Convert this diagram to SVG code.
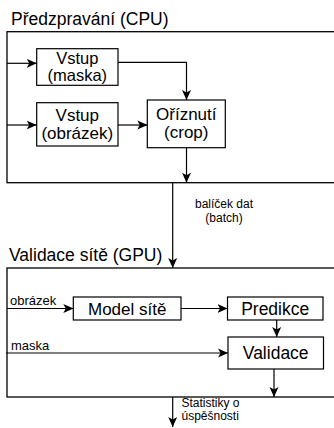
<svg xmlns="http://www.w3.org/2000/svg" width="334" height="428" viewBox="0 0 334 428">
  <style>
    .box { fill: #fff; stroke: #000; stroke-width: 1.2; }
    .frame { fill: none; stroke: #000; stroke-width: 1.3; }
    .wire { fill: none; stroke: #000; stroke-width: 1.2; }
    .t { font-family: "Liberation Sans", Arial, sans-serif; fill: #000; }
    .title { font-size: 17.5px; }
    .node { font-size: 17px; text-anchor: middle; }
    .small { font-size: 12px; }
  </style>
  <defs>
    <marker id="arrow" viewBox="0 0 10 10" refX="10" refY="5" markerWidth="10" markerHeight="10" markerUnits="userSpaceOnUse" orient="auto">
      <path d="M0,0.5 L10,5 L0,9.5 L2.5,5 z" fill="#000"/>
    </marker>
  </defs>

  <!-- preprocessing stage (CPU) -->
  <g id="stage-cpu">
    <rect class="frame" x="7" y="31.7" width="340" height="151"/>
    <text class="t title" x="11" y="25">Předzpravání (CPU)</text>
  </g>

  <!-- network validation stage (GPU) -->
  <g id="stage-gpu">
    <rect class="frame" x="7" y="268" width="340" height="129"/>
    <text class="t title" x="9" y="261">Validace sítě (GPU)</text>
  </g>

  <g id="input-mask">
    <rect class="box" x="36.7" y="48.7" width="81.3" height="36.6"/>
    <text class="t node" x="77.3" y="63.5" style="font-size:16.5px">Vstup</text>
    <text class="t node" x="77.3" y="80.5" style="font-size:16.5px">(maska)</text>
  </g>

  <g id="input-image">
    <rect class="box" x="36.7" y="102.7" width="81.3" height="43.3"/>
    <text class="t node" x="77.3" y="120.5">Vstup</text>
    <text class="t node" x="77.3" y="138.5">(obrázek)</text>
  </g>

  <g id="crop">
    <rect class="box" x="147.3" y="100" width="78" height="47.7"/>
    <text class="t node" x="186.3" y="120">Oříznutí</text>
    <text class="t node" x="186.3" y="138">(crop)</text>
  </g>

  <g id="model">
    <rect class="box" x="73.3" y="297" width="107.7" height="23"/>
    <text class="t node" x="127.2" y="315">Model sítě</text>
  </g>

  <g id="prediction">
    <rect class="box" x="227.5" y="297" width="95.5" height="23"/>
    <text class="t node" x="275.2" y="315" style="font-size:17.5px">Predikce</text>
  </g>

  <g id="validation">
    <rect class="box" x="228" y="337" width="95.5" height="32"/>
    <text class="t node" x="275.7" y="359.3" style="font-size:17.5px">Validace</text>
  </g>

  <!-- connectors -->
  <g id="connectors">
    <line class="wire" x1="7" y1="63.3" x2="36.7" y2="63.3" marker-end="url(#arrow)"/>
    <line class="wire" x1="7" y1="125" x2="36.7" y2="125" marker-end="url(#arrow)"/>
    <line class="wire" x1="118" y1="125" x2="147.3" y2="125" marker-end="url(#arrow)"/>
    <polyline class="wire" points="118,62.3 186.5,62.3 186.5,100" marker-end="url(#arrow)"/>
    <line class="wire" x1="186.5" y1="147.7" x2="186.5" y2="182.7" marker-end="url(#arrow)"/>

    <line class="wire" x1="172.7" y1="182.7" x2="172.7" y2="268" marker-end="url(#arrow)"/>
    <text class="t small" x="224" y="208" text-anchor="middle">balíček dat</text>
    <text class="t small" x="224" y="222" text-anchor="middle">(batch)</text>

    <line class="wire" x1="7" y1="308.5" x2="73.3" y2="308.5" marker-end="url(#arrow)"/>
    <text class="t small" x="10" y="305" style="font-size:13px">obrázek</text>

    <line class="wire" x1="6" y1="353" x2="228" y2="353" marker-end="url(#arrow)"/>
    <text class="t small" x="11" y="349.5" style="font-size:13px">maska</text>

    <line class="wire" x1="181" y1="308.5" x2="227.5" y2="308.5" marker-end="url(#arrow)"/>
    <line class="wire" x1="276.7" y1="320" x2="276.7" y2="337" marker-end="url(#arrow)"/>
    <line class="wire" x1="274" y1="369" x2="274" y2="397" marker-end="url(#arrow)"/>

    <line class="wire" x1="172.7" y1="397" x2="172.7" y2="427" marker-end="url(#arrow)"/>
    <text class="t small" x="181.5" y="406.5">Statistiky o</text>
    <text class="t small" x="181.5" y="420">úspěšnosti</text>
  </g>
</svg>
